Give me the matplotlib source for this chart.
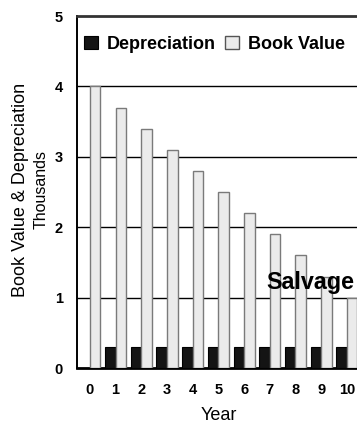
import numpy as np
import matplotlib
matplotlib.use("Agg")
import matplotlib.pyplot as plt
from matplotlib.patches import Patch

plt.rcParams['font.family'] = ['Liberation Sans', 'DejaVu Sans']

years = [0, 1, 2, 3, 4, 5, 6, 7, 8, 9, 10]
depreciation = [0.0, 0.3, 0.3, 0.3, 0.3, 0.3, 0.3, 0.3, 0.3, 0.3, 0.3]
book_value = [4.0, 3.7, 3.4, 3.1, 2.8, 2.5, 2.2, 1.9, 1.6, 1.3, 1.0]
y_ticks = [0, 1, 2, 3, 4, 5]

fig = plt.figure(figsize=(3.57, 4.24), dpi=100)
ax = fig.add_axes([0.2157, 0.132, 0.792, 0.830])

x = np.array(years, dtype=float)
w = 0.41
ax.bar(x - w / 2, depreciation, width=w, color='#141414', edgecolor='#000000',
       linewidth=0.8, zorder=3, label='Depreciation')
ax.bar(x + w / 2, book_value, width=w, color='#ebebeb', edgecolor='#7a7a7a',
       linewidth=1.0, zorder=3, label='Book Value')

ax.set_xlim(-0.5, 10.5)
ax.set_ylim(0, 5)
ax.set_yticks(y_ticks)
ax.set_xticks(years)
ax.tick_params(axis='both', length=0, labelsize=10.5)
ax.tick_params(axis='y', pad=10)
ax.tick_params(axis='x', pad=11)
for lab in ax.get_xticklabels() + ax.get_yticklabels():
    lab.set_fontweight('bold')

for v in [1, 2, 3, 4]:
    ax.axhline(v, color='#000000', linewidth=1.0, zorder=1)

ax.spines['right'].set_visible(False)
ax.spines['top'].set_color('#333333')
ax.spines['top'].set_linewidth(2.0)
ax.spines['left'].set_linewidth(1.4)
ax.spines['bottom'].set_linewidth(2.0)

handles = [Patch(facecolor='#141414', edgecolor='#000000', linewidth=0.8),
           Patch(facecolor='#ebebeb', edgecolor='#555555', linewidth=1.0)]
leg = ax.legend(handles, ['Depreciation', 'Book Value'], ncol=2, frameon=False,
                loc='center left', bbox_to_anchor=(0.0, 0.92),
                prop={'weight': 'bold', 'size': 13},
                handlelength=0.78, handleheight=0.75, handletextpad=0.45,
                columnspacing=0.55, borderaxespad=0.3, borderpad=0.1)

ax.text(6.86, 1.12, 'Salvage', fontsize=16.8, fontweight='bold', ha='left',
        va='baseline', zorder=5, clip_on=False)

ax.set_xlabel('Year', fontsize=13, labelpad=7)
fig.text(0.057, 0.552, 'Book Value & Depreciation', rotation=90, fontsize=13,
         ha='center', va='center')
fig.text(0.115, 0.552, 'Thousands', rotation=90, fontsize=11.5,
         ha='center', va='center')

fig.savefig('out.png', dpi=100)
